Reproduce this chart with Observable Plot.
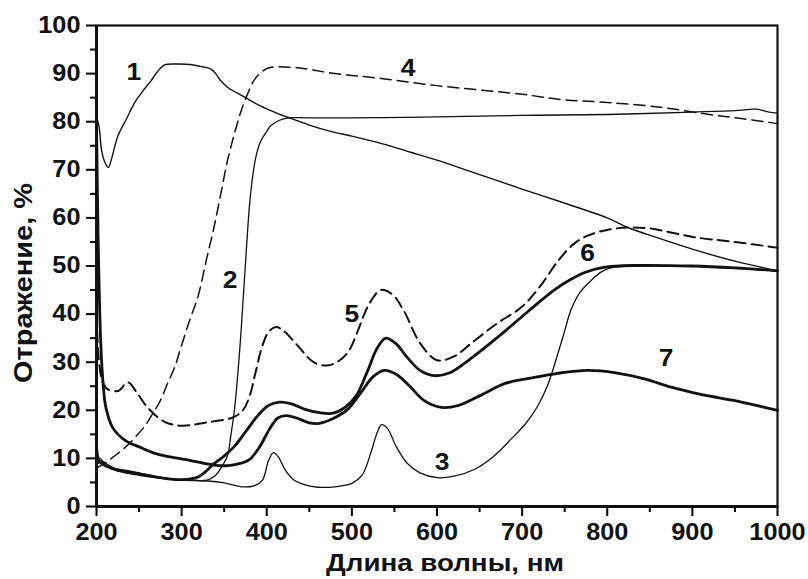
<!DOCTYPE html>
<html>
<head>
<meta charset="utf-8">
<script src="https://cdn.jsdelivr.net/npm/d3@7"></script>
<script src="https://cdn.jsdelivr.net/npm/@observablehq/plot@0.6"></script>
<style>
  html, body { margin: 0; padding: 0; background: #fff; }
  svg { font-family: "Liberation Sans", Arial, sans-serif; }
</style>
</head>
<body>
<div id="chart"></div>
<script>
// Curve 1 — thin solid
const curve1 = [[200,81],[203,79],[206,74],[210,71.5],[214,70.5],[218,72.5],[225,77],[235,80.5],[245,84],[255,86.5],[264,88.5],[272,90.5],[280,91.8],[295,92],[310,91.9],[322,91.5],[334,91],[340,90],[346,88.5],[355,87],[365,86],[375,85],[390,83.5],[405,82.3],[420,81.2],[430,80.6],[450,79.3],[475,78],[500,77],[534,75.5],[570,73.6],[600,72],[650,69],[700,66],[746,63.3],[800,60],[824,58],[860,55.8],[900,53.5],[950,51],[1000,49]];
// Curve 2 — thin solid
const curve2 = [[200,9],[204,10],[210,8.8],[220,8],[235,7.5],[250,7],[270,6.2],[290,5.7],[310,5.5],[330,5.5],[340,6.5],[348,8.5],[354,10.6],[358,15],[362,20],[368,32],[373,45],[377,56],[381,65],[387,72.5],[393,76],[400,78],[405,79.2],[415,80.3],[425,80.8],[450,80.8],[500,80.8],[600,81],[700,81.3],[800,81.5],[900,82],[950,82.3],[975,82.6],[990,82],[1000,81.8]];
// Curve 3 — thin solid
const curve3 = [[200,14],[202,9],[206,9.5],[215,8.5],[230,7.2],[250,6.5],[270,6],[300,5.5],[330,5.3],[350,4.9],[370,4.1],[385,4.3],[395,5.5],[402,9.5],[408,11.2],[414,10.2],[422,7.5],[432,5.5],[445,4.5],[460,4],[480,4.1],[500,4.8],[512,6.5],[522,11],[530,15.5],[535,17],[542,16.2],[552,12.5],[565,9],[580,7],[600,6],[620,6.3],[645,7.8],[667,10.5],[687,14],[704,17.2],[718,20.8],[730,25.2],[742,31.8],[750,36.5],[757,40.7],[768,44.5],[781,47],[795,49],[810,49.8],[850,50],[900,50],[950,49.5],[1000,49]];
// Curve 4 — thin dashed
const curve4 = [[200,8],[210,9],[219,10.2],[232,12],[246,14.5],[258,17],[266,19.3],[275,22],[284,25.8],[292,29],[299,33],[310,39],[319,43.5],[330,52],[338,58],[346,65],[354,72],[362,77.5],[370,82.3],[378,86],[385,88.6],[395,90.5],[405,91.3],[436,91.2],[480,90],[534,89],[600,87.5],[700,85.7],[746,84.6],[800,84],[863,83],[920,81.5],[960,80.6],[1000,79.6]];
// Curve 5 — thick dashed
const curve5 = [[200,40],[203,30],[207,26],[212,24.5],[225,24],[237,25.8],[248,23.5],[260,20.6],[280,17.6],[300,16.8],[330,17.5],[360,18.5],[372,20],[380,23],[387,28],[395,33.5],[403,36.5],[411,37.3],[420,36.5],[436,33.5],[455,30],[471,29.3],[485,30.3],[497,32.5],[508,37],[520,42],[534,45],[548,44],[561,40.7],[580,34],[600,30.4],[620,31.2],[640,33.9],[670,38],[699,41.4],[720,45.5],[742,51],[760,54.5],[777,56.3],[800,57.5],[824,58],[850,57.8],[902,56],[950,55],[1000,53.8]];
// Curve 6 — thick solid
const curve6 = [[200,13],[203,9.5],[210,8.5],[225,7.5],[250,6.8],[275,6],[300,5.6],[320,6.2],[338,8.9],[350,10.5],[362,12.5],[375,15.5],[390,19],[402,21],[415,21.7],[428,21.4],[445,20.2],[462,19.5],[478,19.4],[492,20.6],[505,23],[518,28],[530,33],[540,35],[552,33.8],[565,31],[580,28.3],[597,27.2],[615,27.8],[640,30.8],[670,35],[700,39.5],[720,42.5],[740,45.3],[757,47.2],[776,48.8],[796,49.7],[830,50.1],[900,50],[950,49.6],[1000,49]];
// Curve 7 — thick solid
const curve7 = [[200,80],[202,55],[205,34],[208,25],[211,20.6],[219,16.4],[234,13.7],[250,12.4],[266,11.2],[283,10.4],[297,10],[315,9.4],[338,8.6],[355,8.5],[370,9],[380,9.8],[392,12.5],[403,16],[413,18.4],[423,18.9],[435,18.4],[450,17.4],[462,17.3],[478,18.3],[495,20.2],[510,23.5],[525,27],[538,28.3],[552,27.5],[568,25],[585,22],[605,20.6],[625,21],[650,23],[680,25.6],[710,26.7],[742,27.7],[777,28.3],[810,27.8],[845,26.5],[875,24.8],[910,23.3],[950,22],[980,20.8],[1000,20]];

const labels = [
  {n: "1", x: 244, y: 90.2},
  {n: "2", x: 357, y: 47},
  {n: "3", x: 606, y: 9.1},
  {n: "4", x: 566, y: 91},
  {n: "5", x: 500, y: 40},
  {n: "6", x: 777, y: 52.6},
  {n: "7", x: 869, y: 30.8}
];
const xMajor = [200, 300, 400, 500, 600, 700, 800, 900, 1000];
const xMinor = [250, 350, 450, 550, 650, 750, 850, 950];
const yMajor = [0, 10, 20, 30, 40, 50, 60, 70, 80, 90, 100];
const yMinor = [5, 15, 25, 35, 45, 55, 65, 75, 85, 95];
const xTitle = "Длина волны, нм";
const yTitle = "Отражение, %";

const pts = a => a.map(([x, y]) => ({x, y}));
const line = (a, o) => Plot.line(pts(a), {x: "x", y: "y", curve: "catmull-rom", stroke: "#111", ...o});

const chart = Plot.plot({
  width: 808,
  height: 579,
  marginLeft: 96,
  marginRight: 31,
  marginTop: 25,
  marginBottom: 73,
  style: {fontFamily: "'Liberation Sans', Arial, sans-serif", background: "#fff"},
  x: {domain: [200, 1000]},
  y: {domain: [0, 100]},
  marks: [
    line(curve1, {strokeWidth: 1.4}),
    line(curve2, {strokeWidth: 1.3}),
    line(curve3, {strokeWidth: 1.3}),
    line(curve4, {strokeWidth: 1.5, strokeDasharray: "11,6"}),
    line(curve5, {strokeWidth: 2, strokeDasharray: "11,6"}),
    line(curve6, {strokeWidth: 2.8}),
    line(curve7, {strokeWidth: 2.8}),
    Plot.text(labels, {x: "x", y: "y", text: "n", fontSize: 24, fontWeight: "bold", fill: "#111"}),
    Plot.frame({stroke: "#111", strokeWidth: 2.2}),
    Plot.ruleY([0], {stroke: "#111", strokeWidth: 3}),
    Plot.ruleX([200], {stroke: "#111", strokeWidth: 3}),
    Plot.axisX({ticks: xMajor, tickSize: 10, tickPadding: 7, tickFormat: d => String(d), fontSize: 23, fontWeight: "bold", strokeWidth: 2, label: null, fill: "#111"}),
    Plot.axisX({ticks: xMinor, tickSize: 6, text: null, strokeWidth: 2, label: null}),
    Plot.axisY({ticks: yMajor, tickSize: 10, tickPadding: 6, tickFormat: d => String(d), fontSize: 23, fontWeight: "bold", strokeWidth: 2, label: null, fill: "#111"}),
    Plot.axisY({ticks: yMinor, tickSize: 6, text: null, strokeWidth: 2, label: null}),
    Plot.text([xTitle], {frameAnchor: "bottom", textAnchor: "middle", dy: 64, dx: 8, fontSize: 24, fontWeight: "bold", fill: "#111"}),
    Plot.text([yTitle], {frameAnchor: "left", textAnchor: "middle", rotate: -90, dx: -73, dy: 17, fontSize: 25, fontWeight: "bold", fill: "#111"})
  ]
});
document.getElementById("chart").appendChild(chart);

// widen the bold glyphs a little, as in the scanned original
const svg = d3.select(chart);
svg.selectAll("text").each(function() {
  const t = d3.select(this);
  const s = t.text();
  const w = this.getComputedTextLength();
  if (s === xTitle) t.attr("textLength", 238).attr("lengthAdjust", "spacingAndGlyphs");
  else if (s === yTitle) t.attr("textLength", 200).attr("lengthAdjust", "spacingAndGlyphs");
  else if (/^\d+$/.test(s) && w > 0) t.attr("textLength", w * 1.1).attr("lengthAdjust", "spacingAndGlyphs");
});
</script>
</body>
</html>
